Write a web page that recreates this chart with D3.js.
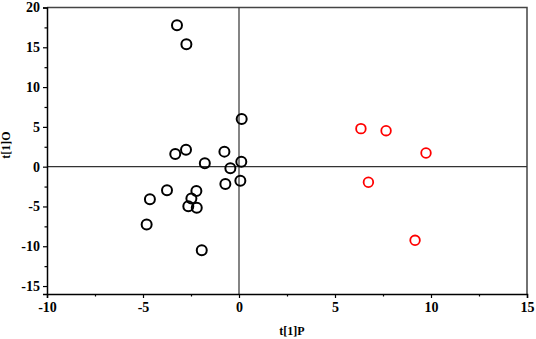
<!DOCTYPE html>
<html>
<head>
<meta charset="utf-8">
<script src="https://d3js.org/d3.v7.min.js"></script>
<style>
  body { margin: 0; background: #fff; }
</style>
</head>
<body>
<div id="chart"></div>
<script>
// group 1 (black)
const blackX = [-3.23, -2.74, 0.14, -3.32, -2.76, -0.76, -1.78, -0.45, 0.12, 0.07, -0.71, -3.75, -2.22, -4.64, -2.48, -2.64, -2.2, -4.81, -1.94];
const blackY = [17.76, 15.38, 5.99, 1.6, 2.14, 1.89, 0.42, -0.2, 0.63, -1.76, -2.17, -2.97, -3.05, -4.1, -4.0, -4.98, -5.15, -7.28, -10.5];
// group 2 (red)
const redX = [6.35, 7.66, 9.74, 6.74, 9.17];
const redY = [4.78, 4.52, 1.72, -1.96, -9.25];

const xTicks = [-10, -5, 0, 5, 10, 15];
const yTicks = [-15, -10, -5, 0, 5, 10, 15, 20];
const xMinor = [-7.5, -2.5, 2.5, 7.5, 12.5];
const yMinor = [-12.5, -7.5, -2.5, 2.5, 7.5, 12.5, 17.5];

const W = 536, H = 339;
const margin = { top: 7.5, right: 9, bottom: 45, left: 47 };
const FONT = 'Liberation Serif';

const svg = d3.select('#chart').append('svg')
    .attr('width', W).attr('height', H)
    .attr('font-family', FONT).attr('font-weight', 'bold');

const x = d3.scaleLinear().domain([-10, 15]).range([margin.left, W - margin.right]);
const y = d3.scaleLinear().domain([-16, 20]).range([H - margin.bottom, margin.top]);

// frame top / right
svg.append('path')
    .attr('d', `M${x(-10)},${y(20)}H${x(15)}V${y(-16)}`)
    .attr('fill', 'none').attr('stroke', '#444').attr('stroke-width', 1.5);

// zero lines
svg.append('line')
    .attr('x1', x(-10)).attr('x2', x(15)).attr('y1', y(0)).attr('y2', y(0))
    .attr('stroke', '#333').attr('stroke-width', 1.2);
svg.append('line')
    .attr('x1', x(0)).attr('x2', x(0)).attr('y1', y(20)).attr('y2', y(-16))
    .attr('stroke', '#333').attr('stroke-width', 1.2);

const fmt = d => String(d);

// axes
const gx = svg.append('g')
    .attr('transform', `translate(0,${y(-16)})`)
    .call(d3.axisBottom(x).tickValues(xTicks).tickSize(4).tickPadding(4).tickFormat(fmt));
svg.append('g')
    .attr('transform', `translate(0,${y(-16)})`)
    .call(d3.axisBottom(x).tickValues(xMinor).tickSize(2.5).tickFormat(''))
    .select('.domain').remove();

const gy = svg.append('g')
    .attr('transform', `translate(${x(-10)},0)`)
    .call(d3.axisLeft(y).tickValues(yTicks).tickSize(4).tickPadding(3).tickFormat(fmt));
svg.append('g')
    .attr('transform', `translate(${x(-10)},0)`)
    .call(d3.axisLeft(y).tickValues(yMinor).tickSize(2.5).tickFormat(''))
    .select('.domain').remove();

[gx, gy].forEach(g => g.attr('font-family', FONT).attr('font-size', 14).attr('font-weight', 'bold'));

svg.selectAll('.domain').attr('stroke', '#000').attr('stroke-width', 1.5);
svg.selectAll('.tick line').attr('stroke', '#000').attr('stroke-width', 1.2);
svg.selectAll('.tick text').attr('fill', '#000');

// points
const black = blackX.map((v, i) => [v, blackY[i]]);
const red = redX.map((v, i) => [v, redY[i]]);

svg.selectAll('.pb').data(black).enter().append('circle')
    .attr('class', 'pb')
    .attr('cx', d => x(d[0])).attr('cy', d => y(d[1]))
    .attr('r', 5)
    .attr('fill', 'none').attr('stroke', '#000').attr('stroke-width', 2);

svg.selectAll('.pr').data(red).enter().append('circle')
    .attr('class', 'pr')
    .attr('cx', d => x(d[0])).attr('cy', d => y(d[1]))
    .attr('r', 4.8)
    .attr('fill', 'none').attr('stroke', '#f00').attr('stroke-width', 1.8);

// axis titles
svg.append('text')
    .attr('x', 292).attr('y', 335)
    .attr('text-anchor', 'middle')
    .attr('font-size', 12)
    .text('t[1]P');

svg.append('text')
    .attr('transform', 'translate(10,145) rotate(-90)')
    .attr('text-anchor', 'middle')
    .attr('font-size', 12)
    .text('t[1]O');
</script>
</body>
</html>
